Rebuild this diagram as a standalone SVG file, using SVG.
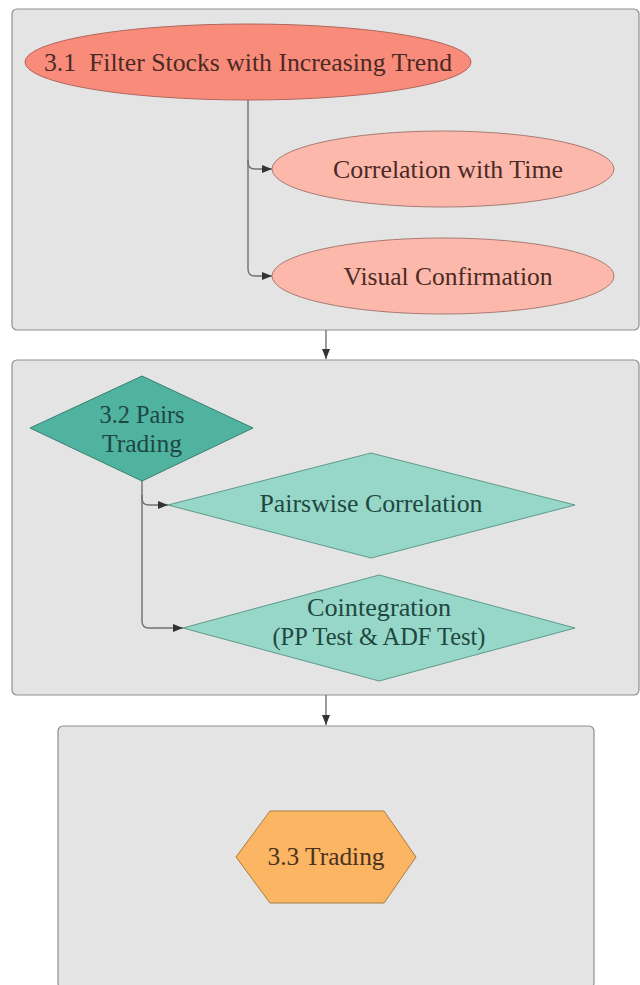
<svg xmlns="http://www.w3.org/2000/svg" width="640" height="985" viewBox="0 0 640 985">
<defs>
<style>
.box{fill:#e4e4e4;stroke:#8f8f8f;stroke-width:1.2}
.t{font-family:"Liberation Serif","DejaVu Serif",serif;font-size:25px;text-anchor:middle;dominant-baseline:central}
.red{fill:#f98b7b;stroke:#b0665b;stroke-width:1}
.pink{fill:#fdb8ac;stroke:#a87a72;stroke-width:1}
.dteal{fill:#4fb3a0;stroke:#3a7f72;stroke-width:1}
.lteal{fill:#96d7c7;stroke:#5f9a8c;stroke-width:1}
.hex{fill:#fbb563;stroke:#a87c44;stroke-width:1;stroke-linejoin:round}
.tr{fill:#4a2a24}
.tg{fill:#1e4742}
.to{fill:#4a3320}
.c{fill:none;stroke:#707070;stroke-width:1.4}
</style>
<marker id="arr" viewBox="0 0 10 10" refX="10" refY="5" markerWidth="10" markerHeight="10" markerUnits="userSpaceOnUse" orient="auto">
<path d="M0,1 L10,5 L0,9 Z" fill="#333"/>
</marker>
</defs>
<g id="group1"><rect class="box" x="12" y="9" width="627" height="321" rx="5"/></g>
<g id="group2"><rect class="box" x="12" y="360" width="627" height="335" rx="5"/></g>
<g id="group3"><rect class="box" x="58" y="726" width="536" height="262" rx="5"/></g>
<g id="connectors">
<path class="c" d="M248,100 V162 Q248,169 255,169 H272" marker-end="url(#arr)"/>
<path class="c" d="M248,160 V269 Q248,276 255,276 H272" marker-end="url(#arr)"/>
<path class="c" d="M326,330 V359" marker-end="url(#arr)"/>
<path class="c" d="M142,481 V498 Q142,505 149,505 H168" marker-end="url(#arr)"/>
<path class="c" d="M142,495 V621 Q142,628 149,628 H183" marker-end="url(#arr)"/>
<path class="c" d="M326,695 V725" marker-end="url(#arr)"/>
</g>
<g id="n31"><ellipse class="red" cx="248" cy="62" rx="223" ry="38"/><text class="t tr" x="248" y="62" textLength="408" lengthAdjust="spacingAndGlyphs" xml:space="preserve">3.1  Filter Stocks with Increasing Trend</text></g>
<g id="n_corr_time"><ellipse class="pink" cx="443" cy="169" rx="171" ry="38"/><text class="t tr" x="448" y="169" textLength="230" lengthAdjust="spacingAndGlyphs">Correlation with Time</text></g>
<g id="n_visual"><ellipse class="pink" cx="443" cy="276" rx="171" ry="38"/><text class="t tr" x="448" y="276" textLength="209" lengthAdjust="spacingAndGlyphs">Visual Confirmation</text></g>
<g id="n32"><polygon class="dteal" points="30,428 142,376 253,428 142,481"/><text class="t tg" x="142" y="414" textLength="85" lengthAdjust="spacingAndGlyphs">3.2 Pairs</text><text class="t tg" x="142" y="443" textLength="80" lengthAdjust="spacingAndGlyphs">Trading</text></g>
<g id="n_pairwise"><polygon class="lteal" points="168,505 371,453 575,505 371,558"/><text class="t tg" x="371" y="503" textLength="223" lengthAdjust="spacingAndGlyphs">Pairswise Correlation</text></g>
<g id="n_coint"><polygon class="lteal" points="183,628 379,575 575,628 379,681"/><text class="t tg" x="379" y="607" textLength="144" lengthAdjust="spacingAndGlyphs">Cointegration</text><text class="t tg" x="379" y="636" textLength="213" lengthAdjust="spacingAndGlyphs">(PP Test &amp; ADF Test)</text></g>
<g id="n33"><polygon class="hex" points="236,857 270,811 384,811 416,857 384,903 270,903"/><text class="t to" x="326" y="856" textLength="117" lengthAdjust="spacingAndGlyphs">3.3 Trading</text></g>
</svg>
